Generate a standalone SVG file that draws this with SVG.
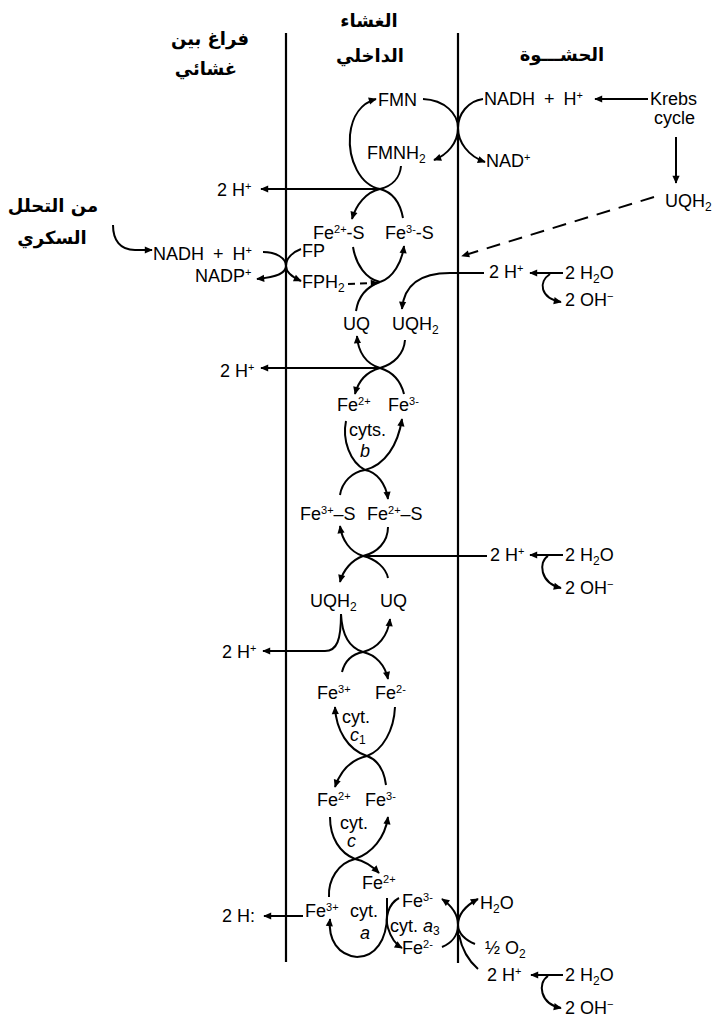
<svg xmlns="http://www.w3.org/2000/svg" width="714" height="1022" viewBox="0 0 714 1022">
<style>
.t{font-family:"Liberation Sans",Arial,sans-serif;font-size:18px;fill:#000}
.i{font-style:italic}
.ar{font-family:"DejaVu Sans",sans-serif;font-size:18px;font-weight:bold;fill:#000;text-anchor:middle}
.ln{fill:none;stroke:#000;stroke-width:2}
.ds{stroke-dasharray:14 9}
.mb{fill:none;stroke:#000;stroke-width:2.2}
</style>
<defs>
<marker id="ah" viewBox="0 0 10 10" refX="9" refY="5" markerWidth="9" markerHeight="8" markerUnits="userSpaceOnUse" orient="auto"><path d="M0,0.5 L10,5 L0,9.5 z" fill="#000"/></marker>
</defs>
<rect width="714" height="1022" fill="#fff"/>

<g id="membranes">
<line class="mb" x1="286" y1="33" x2="286" y2="962"/>
<line class="mb" x1="458" y1="33" x2="458" y2="963"/>
</g>

<g id="headers">
<text class="ar" x="210" y="45">فراغ بين</text>
<text class="ar" x="206" y="75">غشائي</text>
<text class="ar" x="369" y="27">الغشاء</text>
<text class="ar" x="370" y="62">الداخلي</text>
<text class="ar" x="562" y="61">الحشـــوة</text>
<text class="ar" x="53" y="212">من التحلل</text>
<text class="ar" x="52" y="244">السكري</text>
</g>

<g id="connectors">
<path class="ln" marker-end="url(#ah)" d="M423,99 C445,100 458,114 458,128 C458,143 447,155 434,160"/>
<path class="ln" marker-end="url(#ah)" d="M483,99 C468,101 458,114 458,128 C458,142 468,156 485,162"/>
<path class="ln" marker-end="url(#ah)" d="M648,99 L595,99"/>
<path class="ln" marker-end="url(#ah)" d="M676,137 L676,183"/>
<path class="ln ds" marker-end="url(#ah)" d="M654,197 L462,256"/>
<path class="ln" marker-end="url(#ah)" d="M380,189 C360,185 348,160 350,135 C352,115 362,103 376,99"/>
<path class="ln" d="M401,166 C400,178 392,186 380,189"/>
<path class="ln" marker-end="url(#ah)" d="M380,189 L261,189"/>
<path class="ln" marker-end="url(#ah)" d="M380,189 C366,192 356,205 352,219"/>
<path class="ln" d="M403,218 C400,202 392,192 380,189"/>
<path class="ln" d="M353,247 C356,265 366,279 380,282"/>
<path class="ln" marker-end="url(#ah)" d="M380,282 C393,278 402,262 404,246"/>
<path class="ln" marker-end="url(#ah)" d="M263,252 C276,252 286,258 286,266 C286,273 278,277 257,279"/>
<path class="ln" marker-end="url(#ah)" d="M301,249 C293,252 286,258 286,266 C286,272 292,277 301,281"/>
<path class="ln" marker-end="url(#ah)" d="M113,225 C113,240 120,250 135,250 L152,250"/>
<path class="ln" stroke-dasharray="7 5" marker-end="url(#ah)" d="M348,284 L378,283"/>
<path class="ln" marker-end="url(#ah)" d="M484,273 L450,273 C420,273 404,285 402,309"/>
<path class="ln" marker-end="url(#ah)" d="M563,273 L530,273"/>
<path class="ln" marker-end="url(#ah)" d="M550,274 C538,282 540,298 561,302"/>
<path class="ln" d="M380,282 C366,287 358,298 356,311"/>
<path class="ln" marker-end="url(#ah)" d="M380,368 C366,364 358,352 357,336"/>
<path class="ln" d="M405,340 C404,354 394,364 380,368"/>
<path class="ln" marker-end="url(#ah)" d="M380,368 L261,368"/>
<path class="ln" marker-end="url(#ah)" d="M380,368 C366,372 358,382 355,394"/>
<path class="ln" d="M404,394 C401,382 393,372 380,368"/>
<path class="ln" d="M346,421 C342,440 350,462 365,470"/>
<path class="ln" marker-end="url(#ah)" d="M365,470 C385,465 398,445 402,419"/>
<path class="ln" d="M340,495 C342,482 352,472 365,470"/>
<path class="ln" marker-end="url(#ah)" d="M365,470 C377,472 386,484 388,499"/>
<path class="ln" marker-end="url(#ah)" d="M363,556 C350,552 342,540 340,526"/>
<path class="ln" d="M388,527 C388,542 377,553 363,556"/>
<path class="ln" d="M363,556 L487,556"/>
<path class="ln" marker-end="url(#ah)" d="M563,555 L530,555"/>
<path class="ln" marker-end="url(#ah)" d="M548,556 C538,562 540,583 561,588"/>
<path class="ln" marker-end="url(#ah)" d="M363,556 C352,560 343,570 340,582"/>
<path class="ln" d="M388,578 C386,568 376,559 363,556"/>
<path class="ln" d="M341,614 C342,636 350,648 363,652"/>
<path class="ln" marker-end="url(#ah)" d="M341,614 C341,640 337,651 325,651 L263,651"/>
<path class="ln" marker-end="url(#ah)" d="M363,652 C378,648 388,636 390,619"/>
<path class="ln" d="M342,672 C345,660 353,654 363,652"/>
<path class="ln" marker-end="url(#ah)" d="M363,652 C376,655 385,665 388,679"/>
<path class="ln" marker-end="url(#ah)" d="M367,756 C348,750 336,730 335,707"/>
<path class="ln" d="M395,707 C394,730 383,750 367,756"/>
<path class="ln" marker-end="url(#ah)" d="M367,756 C350,760 340,772 335,787"/>
<path class="ln" d="M386,785 C384,770 378,760 367,756"/>
<path class="ln" d="M330,817 C330,838 340,853 355,859"/>
<path class="ln" marker-end="url(#ah)" d="M355,859 C372,853 385,838 388,817"/>
<path class="ln" marker-end="url(#ah)" d="M355,859 C365,861 372,866 379,873"/>
<path class="ln" d="M355,859 C338,863 328,880 329,897"/>
<path class="ln" marker-end="url(#ah)" d="M357,957 C338,955 328,940 330,919"/>
<path class="ln" d="M387,898 L387,915 C387,940 375,957 357,957"/>
<path class="ln" marker-end="url(#ah)" d="M303,916 L264,916"/>
<path class="ln" marker-end="url(#ah)" d="M399,898 C388,904 385,918 388,928 C391,938 395,944 402,948"/>
<path class="ln" marker-end="url(#ah)" d="M442,947 C452,943 458,935 458,925 C458,915 452,906 442,899"/>
<path class="ln" marker-end="url(#ah)" d="M475,944 C465,940 458,933 458,925 C458,915 465,906 478,899"/>
<path class="ln" d="M478,969 C470,962 462,950 459,935"/>
<path class="ln" marker-end="url(#ah)" d="M563,975 L531,975"/>
<path class="ln" marker-end="url(#ah)" d="M548,976 C537,983 540,1004 561,1008"/>
</g>

<g id="n-fmn"><text class="t" x="378" y="106">FMN</text></g>
<g id="n-fmnh2"><text class="t" x="367" y="159">FMNH<tspan font-size="12" dy="4">2</tspan></text></g>
<g id="n-nadh-r"><text class="t" x="484" y="105" word-spacing="4">NADH + H<tspan font-size="11" dy="-6">+</tspan></text></g>
<g id="n-krebs"><text class="t" x="650" y="105">Krebs</text><text class="t" x="654" y="124">cycle</text></g>
<g id="n-nad"><text class="t" x="486" y="167">NAD<tspan font-size="11" dy="-6">+</tspan></text></g>
<g id="n-uqh2-r"><text class="t" x="665" y="207">UQH<tspan font-size="12" dy="4">2</tspan></text></g>
<g id="n-2h-1"><text class="t" x="217" y="196">2 H<tspan font-size="11" dy="-6">+</tspan></text></g>
<g id="n-fes-1"><text class="t" x="313" y="239">Fe<tspan font-size="11" dy="-6">2+</tspan><tspan dy="6">-S</tspan></text><text class="t" x="385" y="239">Fe<tspan font-size="11" dy="-6">3-</tspan><tspan dy="6">-S</tspan></text></g>
<g id="n-nadh-l"><text class="t" x="153" y="260" word-spacing="4">NADH + H<tspan font-size="11" dy="-6">+</tspan></text></g>
<g id="n-nadp"><text class="t" x="195" y="282">NADP<tspan font-size="11" dy="-6">+</tspan></text></g>
<g id="n-fp"><text class="t" x="302" y="257">FP</text><text class="t" x="302" y="288">FPH<tspan font-size="12" dy="4">2</tspan></text></g>
<g id="n-2h-2"><text class="t" x="489" y="278">2 H<tspan font-size="11" dy="-6">+</tspan></text><text class="t" x="565" y="279">2 H<tspan font-size="12" dy="4">2</tspan><tspan dy="-4">O</tspan></text><text class="t" x="565" y="306">2 OH<tspan font-size="11" dy="-6">−</tspan></text></g>
<g id="n-uq-1"><text class="t" x="343" y="330">UQ</text><text class="t" x="392" y="330">UQH<tspan font-size="12" dy="4">2</tspan></text></g>
<g id="n-2h-3"><text class="t" x="220" y="377">2 H<tspan font-size="11" dy="-6">+</tspan></text></g>
<g id="n-cytb"><text class="t" x="337" y="411">Fe<tspan font-size="11" dy="-6">2+</tspan></text><text class="t" x="388" y="411">Fe<tspan font-size="11" dy="-6">3-</tspan></text><text class="t" x="349" y="436">cyts.</text><text class="t i" x="360" y="457">b</text></g>
<g id="n-fes-2"><text class="t" x="300" y="520">Fe<tspan font-size="11" dy="-6">3+</tspan><tspan dy="6">–S</tspan></text><text class="t" x="367" y="520">Fe<tspan font-size="11" dy="-6">2+</tspan><tspan dy="6">–S</tspan></text></g>
<g id="n-2h-4"><text class="t" x="490" y="561">2 H<tspan font-size="11" dy="-6">+</tspan></text><text class="t" x="565" y="561">2 H<tspan font-size="12" dy="4">2</tspan><tspan dy="-4">O</tspan></text><text class="t" x="565" y="594">2 OH<tspan font-size="11" dy="-6">−</tspan></text></g>
<g id="n-uq-2"><text class="t" x="310" y="607">UQH<tspan font-size="12" dy="4">2</tspan></text><text class="t" x="380" y="607">UQ</text></g>
<g id="n-2h-5"><text class="t" x="222" y="658">2 H<tspan font-size="11" dy="-6">+</tspan></text></g>
<g id="n-cytc1"><text class="t" x="317" y="699">Fe<tspan font-size="11" dy="-6">3+</tspan></text><text class="t" x="375" y="699">Fe<tspan font-size="11" dy="-6">2-</tspan></text><text class="t" x="342" y="723">cyt.</text><text class="t i" x="350" y="741">c<tspan font-size="12" dy="3" font-style="normal">1</tspan></text></g>
<g id="n-cytc"><text class="t" x="317" y="806">Fe<tspan font-size="11" dy="-6">2+</tspan></text><text class="t" x="365" y="806">Fe<tspan font-size="11" dy="-6">3-</tspan></text><text class="t" x="340" y="829">cyt.</text><text class="t i" x="347" y="847">c</text></g>
<g id="n-cyta"><text class="t" x="362" y="889">Fe<tspan font-size="11" dy="-6">2+</tspan></text><text class="t" x="305" y="917">Fe<tspan font-size="11" dy="-6">3+</tspan></text><text class="t" x="350" y="917">cyt.</text><text class="t i" x="360" y="939">a</text></g>
<g id="n-2h-6"><text class="t" x="222" y="922">2 H:</text></g>
<g id="n-cyta3"><text class="t" x="402" y="907">Fe<tspan font-size="11" dy="-6">3-</tspan></text><text class="t" x="390" y="932">cyt. <tspan class="i">a</tspan><tspan font-size="12" dy="3">3</tspan></text><text class="t" x="402" y="954">Fe<tspan font-size="11" dy="-6">2-</tspan></text></g>
<g id="n-o2"><text class="t" x="480" y="909">H<tspan font-size="12" dy="4">2</tspan><tspan dy="-4">O</tspan></text><text class="t" x="485" y="954">½ O<tspan font-size="12" dy="4">2</tspan></text></g>
<g id="n-2h-7"><text class="t" x="487" y="981">2 H<tspan font-size="11" dy="-6">+</tspan></text><text class="t" x="565" y="981">2 H<tspan font-size="12" dy="4">2</tspan><tspan dy="-4">O</tspan></text><text class="t" x="565" y="1014">2 OH<tspan font-size="11" dy="-6">−</tspan></text></g>
</svg>
